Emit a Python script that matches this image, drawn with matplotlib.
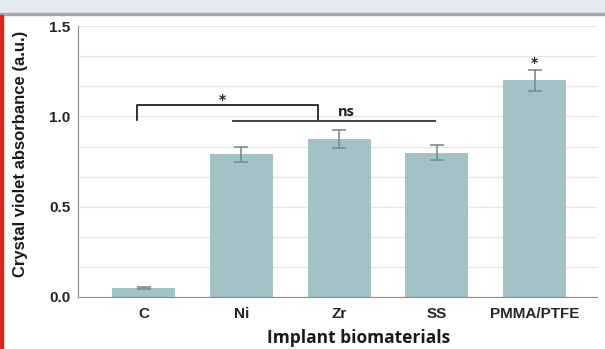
import numpy as np
import matplotlib.pyplot as plt
from matplotlib.patches import Rectangle
from matplotlib.ticker import MultipleLocator

# values
materials = ["C", "Ni", "Zr", "SS", "PMMA/PTFE"]
absorbance = [0.05, 0.79, 0.875, 0.80, 1.20]
errors = [0.004, 0.04, 0.05, 0.04, 0.06]

bar_color = "#a3c2c6"
err_color = "#7b8c8e"

fig = plt.figure(figsize=(6.05, 3.49), dpi=100)
ax = fig.add_axes([0.129, 0.149, 0.858, 0.776])

x = np.arange(len(materials))
ax.bar(x, absorbance, width=0.645, color=bar_color, zorder=2)
ax.errorbar(x, absorbance, yerr=errors, fmt="none", ecolor=err_color,
            elinewidth=1.2, capsize=5, capthick=1.2, zorder=3)

ax.set_xlim(-0.67, 4.64)
ax.set_ylim(0, 1.5)
ax.yaxis.set_major_locator(MultipleLocator(0.5))
ax.yaxis.set_minor_locator(MultipleLocator(1 / 6))
ax.grid(axis="y", which="both", color="#e6e6e6", linewidth=1, zorder=0)
ax.set_axisbelow(True)

for s in ["top", "right"]:
    ax.spines[s].set_visible(False)
ax.spines["left"].set_color("#8c8c8c")
ax.spines["bottom"].set_color("#8c8c8c")

ax.set_xticks(x)
ax.set_xticklabels(materials)
ax.tick_params(axis="both", which="both", length=0, pad=7, labelcolor="#262626")
ax.tick_params(axis="y", pad=5.5)
for lbl in ax.get_xticklabels() + ax.get_yticklabels():
    lbl.set_fontfamily("Liberation Sans")
    lbl.set_fontweight("bold")
    lbl.set_fontsize(11)
ax.yaxis.set_major_formatter(plt.FormatStrFormatter("%.1f"))

ax.set_ylabel("Crystal violet absorbance (a.u.)", fontfamily="Liberation Sans",
              fontweight="bold", fontsize=12, color="#1a1a1a")
ax.yaxis.set_label_coords(-0.096, 0.53)
ax.set_xlabel("Implant biomaterials", fontfamily="Open Sans",
              fontweight="bold", fontsize=12.5, color="#1a1a1a", labelpad=6)
ax.xaxis.label.set_x(0.541)

# significance annotations
ax.plot([-0.066, -0.066, 1.785, 1.785], [0.98, 1.0625, 1.0625, 0.98],
        color="#222222", lw=1.3, zorder=4)
ax.text(0.81, 1.09, "*", ha="center", va="center", fontsize=10,
        fontweight="bold", color="#222222")
ax.plot([0.916, 2.98], [0.974, 0.974], color="#333333", lw=1.3, zorder=4)
ax.text(2.07, 1.025, "ns", ha="center", va="center", fontsize=10.5,
        fontweight="bold", fontfamily="Open Sans", color="#222222")
ax.text(4, 1.295, "*", ha="center", va="center", fontsize=10,
        fontweight="bold", color="#222222")

# page decorations seen around the figure
fig.patches.append(Rectangle((0, 0.962), 1, 0.038, transform=fig.transFigure,
                             color="#e2e9f1", zorder=0))
fig.patches.append(Rectangle((0, 0.957), 1, 0.006, transform=fig.transFigure,
                             color="#a8a8a8", zorder=0))
fig.patches.append(Rectangle((0, 0), 0.005, 0.957, transform=fig.transFigure,
                             color="#d9261c", zorder=0))

fig.savefig("out.png", dpi=100)
